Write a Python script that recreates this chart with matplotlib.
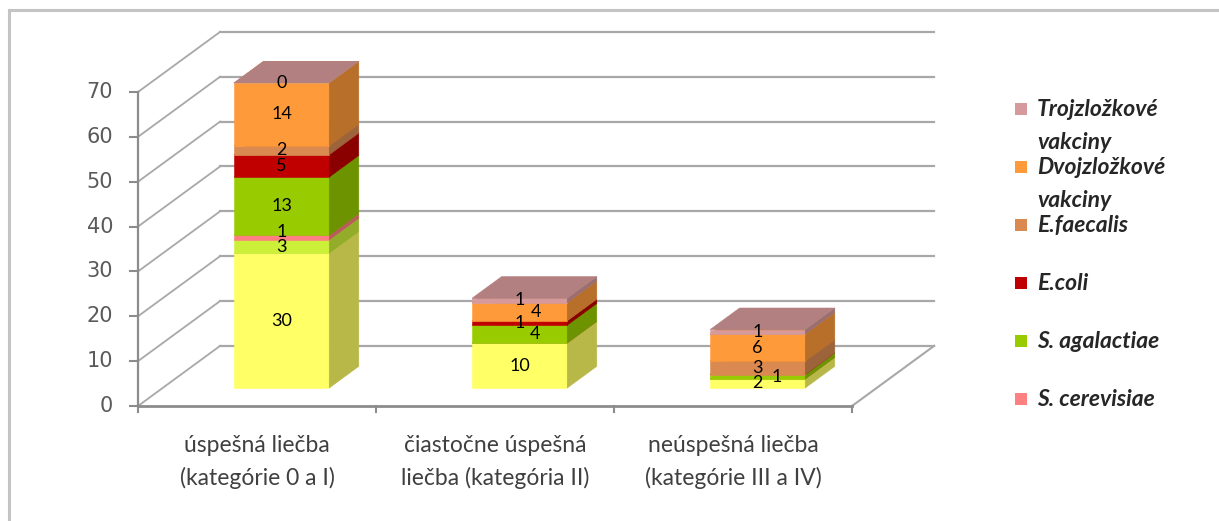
import matplotlib
matplotlib.use("Agg")
import matplotlib.pyplot as plt
from matplotlib.patches import Polygon, Rectangle
from matplotlib.lines import Line2D
from matplotlib.colors import to_rgb

# ---- data -------------------------------------------------------------
categories = ["úspešná liečba\n(kategórie 0 a I)",
              "čiastočne úspešná\nliečba (kategória II)",
              "neúspešná liečba\n(kategórie III a IV)"]

# stacked series, bottom to top
base_yellow   = [30, 10, 2]
light_green   = [3, 0, 0]
s_cerevisiae  = [1, 0, 0]
s_agalactiae  = [13, 4, 1]
e_coli        = [5, 1, 0]
e_faecalis    = [2, 0, 3]
dvojzlozkove  = [14, 4, 6]
trojzlozkove  = [0, 1, 1]

legend_labels = ["Trojzložkové\nvakciny", "Dvojzložkové\nvakciny", "E.faecalis",
                 "E.coli", "S. agalactiae", "S. cerevisiae"]

y_ticks = [0, 10, 20, 30, 40, 50, 60, 70]

# ---- styling ----------------------------------------------------------
series = [
    (base_yellow,  "#FFFF66"),
    (light_green,  "#CCF03A"),
    (s_cerevisiae, "#FF8080"),
    (s_agalactiae, "#99CC00"),
    (e_coli,       "#C00000"),
    (e_faecalis,   "#DA8A50"),
    (dvojzlozkove, "#FF9A3A"),
    (trojzlozkove, "#D69A9C"),
]
legend_colors = ["#D69A9C", "#FF9A3A", "#DA8A50", "#C00000", "#99CC00", "#FF8080"]

# which zero values get a label, and small nudges (category units, value units)
show_zero = {(7, 0)}
label_nudge = {(3, 1): (0.065, 0), (6, 1): (0.068, 0), (3, 2): (0.08, 0),
               (2, 0): (0, 1.2)}

# 3-D look: depth vector (category units, value units) for one full depth
DX, DY = 0.345, 13.4
FRONT, BACK = 0.30, 0.66     # bar front / back plane depth
HALF_W = 0.20

W, H = 1219, 521
fig = plt.figure(figsize=(W / 100, H / 100), dpi=100)
ax = fig.add_axes([0, 0, 1, 1])
px_cat, px_val = 238.0, 4.486
x0_px, y0_px = 138.0, 406.0
ax.set_xlim(-0.5 - x0_px / px_cat, -0.5 + (W - x0_px) / px_cat)
ax.set_ylim(-(H - y0_px) / px_val, y0_px / px_val)
ax.axis("off")


def P(x, y, d):
    """Project a point at depth d onto the drawing plane."""
    return (x + d * DX, y + d * DY)


def shade(c, f):
    r, g, b = to_rgb(c)
    return (r * f, g * f, b * f)


n = len(categories)
xl, xr = -0.5, n - 0.5
ymax = y_ticks[-1]
grid_c = "#A8A8A8"
axis_c = "#8C8C8C"

# back wall gridlines and side wall diagonals
for v in y_ticks:
    bx0, by = P(xl, v, 1)
    bx1, _ = P(xr, v, 1)
    ax.add_line(Line2D([bx0, bx1], [by, by], color=grid_c, lw=1.6, zorder=1))
    ax.add_line(Line2D([xl, bx0], [v, by], color=grid_c, lw=1.3, zorder=1))
    # tick mark
    ax.add_line(Line2D([xl - 0.034, xl], [v, v], color=axis_c, lw=1.5, zorder=2))
    ax.text(xl - 0.105, v, str(v), ha="right", va="center", fontsize=15,
            family="DejaVu Sans", color="#5A5A5A", zorder=3)

# floor outline
fx, fy = P(xr, 0, 1)
ax.add_line(Line2D([xr, fx], [0, fy], color=grid_c, lw=1.5, zorder=1))
# value axis and category axis
ax.add_line(Line2D([xl, xl], [0, ymax], color=axis_c, lw=1.6, zorder=2))
ax.add_line(Line2D([xl, xr], [0, 0], color=axis_c, lw=2.0, zorder=2))
for k in range(n + 1):
    ax.add_line(Line2D([xl + k, xl + k], [0, -1.4], color=axis_c, lw=1.5, zorder=2))

# stacked 3-D bars
for i in range(n):
    c = i
    bottom = 0.0
    for s, (vals, col) in enumerate(series):
        v = vals[i]
        top = bottom + v
        front = [P(c - HALF_W, bottom, FRONT), P(c + HALF_W, bottom, FRONT),
                 P(c + HALF_W, top, FRONT), P(c - HALF_W, top, FRONT)]
        side = [P(c + HALF_W, bottom, FRONT), P(c + HALF_W, bottom, BACK),
                P(c + HALF_W, top, BACK), P(c + HALF_W, top, FRONT)]
        lid = [P(c - HALF_W, top, FRONT), P(c + HALF_W, top, FRONT),
               P(c + HALF_W, top, BACK), P(c - HALF_W, top, BACK)]
        if v > 0:
            ax.add_patch(Polygon(front, closed=True, fc=col, ec=col, lw=0.4, zorder=4))
            sc = shade(col, 0.72)
            ax.add_patch(Polygon(side, closed=True, fc=sc, ec=sc, lw=0.4, zorder=4))
        tc = shade(col, 0.83)
        ax.add_patch(Polygon(lid, closed=True, fc=tc, ec=tc, lw=0.4, zorder=4))
        if v > 0 or (s, i) in show_zero:
            ndx, ndy = label_nudge.get((s, i), (0.0, 0.0))
            lx, ly = P(c + ndx, (bottom + top) / 2 + ndy, FRONT)
            ax.text(lx, ly, str(v), ha="center", va="center", fontsize=13,
                    family="Lato", color="black", zorder=6)
        bottom = top

# category labels
for i, lab in enumerate(categories):
    ax.text(i, -12.45, lab, ha="center", va="center", fontsize=16.5,
            family="Lato", color="#404040", linespacing=1.57, zorder=3)

# legend
leg_x, leg_y, leg_step = 1015, 109, 58
for k, (lab, col) in enumerate(zip(legend_labels, legend_colors)):
    yk = leg_y + k * leg_step
    fig.patches.append(Rectangle(((leg_x) / W, 1 - (yk + 6) / H), 12 / W, 12 / H,
                                 transform=fig.transFigure, fc=col, ec="none"))
    fig.text((leg_x + 22) / W, 1 - (yk - 10) / H, lab, ha="left", va="top",
             fontsize=16.5, family="Lato", style="italic", weight="bold",
             color="#262626", linespacing=1.72)

# chart frame
fig.add_artist(Line2D([9 / W, 9 / W], [0, 1 - 10 / H], transform=fig.transFigure,
                      color="#C4C4C4", lw=2.2))
fig.add_artist(Line2D([9 / W, 1], [1 - 10 / H, 1 - 10 / H], transform=fig.transFigure,
                      color="#C4C4C4", lw=2.2))

fig.savefig("out.png", dpi=100, facecolor="white")
